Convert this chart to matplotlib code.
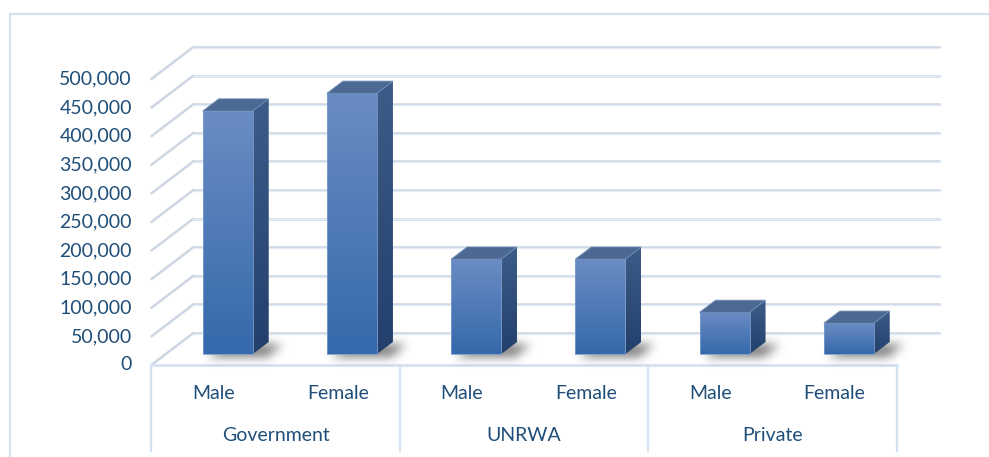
import numpy as np
import matplotlib
matplotlib.use("Agg")
import matplotlib.pyplot as plt
from matplotlib.patches import Polygon, Rectangle
from matplotlib.lines import Line2D
from matplotlib.colors import LinearSegmentedColormap
import matplotlib.transforms as mtransforms

# ---------------- data ----------------
groups = ["Government", "UNRWA", "Private"]
genders = ["Male", "Female"]
values = [425000, 456000, 166000, 166000, 73000, 54000]   # Gov M/F, UNRWA M/F, Private M/F
yticks = list(range(0, 500001, 50000))

# ---------------- layout ----------------
W, H = 989, 457
SLOT_PX = 124.2          # px per category slot
X0_PX = 213.5            # px of first slot centre on floor front
Y0_PX = 365              # px of value 0 on floor front
UNIT = 500000 / 286      # value units per px
XU = 1 / SLOT_PX         # slot units per px

DX = 42 * XU             # full depth (floor front -> back wall)
DY = 32 * UNIT
F0, F1 = 0.34, 0.72      # bar front / back depth fraction
BW = 50 * XU             # bar width

TXT = "#1F4E79"
GRID = "#cdd6e2"
EDGE = "#d5e2f1"

plt.rcParams['font.family'] = ['Lato', 'DejaVu Sans']

fig = plt.figure(figsize=(W / 100, H / 100), dpi=100)
ax = fig.add_axes([0, 0, 1, 1])
ax.set_axis_off()
xlim = (-X0_PX / SLOT_PX, (W - X0_PX) / SLOT_PX)
ylim = (-(H - Y0_PX) * UNIT, Y0_PX * UNIT)

# chart border (top + left)
fig.add_artist(Line2D([10 / W, 1], [1 - 14 / H, 1 - 14 / H], color=EDGE, lw=1.6))
fig.add_artist(Line2D([10 / W, 10 / W], [0, 1 - 14 / H], color=EDGE, lw=1.6))

n = len(values)
xl, xr = -0.5, n - 0.5

# gridlines: left wall diagonals + back wall
for v in yticks:
    ax.plot([xl, xl + DX], [v, v + DY], color=GRID, lw=1.8, solid_capstyle='round', zorder=1)
    ax.plot([xl + DX, xr + DX], [v + DY, v + DY], color=GRID, lw=1.8, zorder=1)
    ax.plot([xl + DX, xr + DX], [v + DY - 0.8 * UNIT, v + DY - 0.8 * UNIT], color="#e3ecf7", lw=1.0, zorder=1)

# floor front edge + group separators
ax.plot([xl, xr], [0, 0], color=EDGE, lw=2, zorder=2)
for g in range(len(groups) + 1):
    xs = xl + 2 * g
    ax.plot([xs, xs], [0, -150000], color=EDGE, lw=1.6, zorder=2)

# y tick labels
off = mtransforms.offset_copy(ax.transData, fig=fig, x=-14, y=0, units='points')
for v in yticks:
    ax.text(xl, v, f"{v:,}", transform=off, ha='right', va='center',
            fontsize=14, color=TXT)

# category labels
for i in range(n):
    ax.text(i, -49000, genders[i % 2], ha='center', va='center', fontsize=14, color=TXT)
for g, name in enumerate(groups):
    ax.text(2 * g + 0.5, -124000, name, ha='center', va='center', fontsize=14, color=TXT)

front_cmap = LinearSegmentedColormap.from_list("front", ["#3569ab", "#6a8cc4"])
side_cmap = LinearSegmentedColormap.from_list("side", ["#22406b", "#3e5c88"])
grad = np.linspace(0, 1, 256).reshape(-1, 1)


def gauss_blur(a, sigma):
    r = int(3 * sigma)
    k = np.exp(-0.5 * (np.arange(-r, r + 1) / sigma) ** 2)
    k /= k.sum()
    a = np.apply_along_axis(lambda m: np.convolve(m, k, mode='same'), 0, a)
    a = np.apply_along_axis(lambda m: np.convolve(m, k, mode='same'), 1, a)
    return a


bd = F1 - F0
for i, v in enumerate(values):
    x1 = i - BW / 2 + F0 * DX
    x2 = x1 + BW
    b = F0 * DY

    # soft blurred shadow on the floor, right of the bar base
    ex0, ex1 = x1 - 15 * XU, x2 + bd * DX + 45 * XU
    ey0, ey1 = b - 15 * UNIT, b + bd * DY + 12 * UNIT
    nx = int(round((ex1 - ex0) / XU))
    ny = int(round((ey1 - ey0) / UNIT))
    gx = np.linspace(ex0, ex1, nx)
    gy = np.linspace(ey0, ey1, ny)
    GX, GY = np.meshgrid(gx, gy)
    t = (GY - (b - 3 * UNIT)) / (bd * DY)
    shift = 14 * XU
    inside = (t >= 0) & (t <= 1) & (GX >= x1 + 4 * XU + t * bd * DX) & (GX <= x2 + shift + t * bd * DX)
    alpha = gauss_blur(inside.astype(float), 5) * 0.55
    rgba = np.zeros((ny, nx, 4))
    rgba[..., 3] = alpha
    ax.imshow(rgba, extent=(ex0, ex1, ey0, ey1), origin='lower', aspect='auto',
              zorder=3, interpolation='bilinear')

    # front face
    rect = Rectangle((x1, b), BW, v, facecolor='none', edgecolor='#7d9dcc', lw=0.6, zorder=6)
    ax.add_patch(rect)
    im = ax.imshow(grad, cmap=front_cmap, extent=(x1, x2, b, b + v), origin='lower',
                   aspect='auto', zorder=5, interpolation='bilinear')
    im.set_clip_path(rect)

    # side face
    side = Polygon([(x2, b), (x2 + bd * DX, b + bd * DY), (x2 + bd * DX, b + v + bd * DY), (x2, b + v)],
                   closed=True, facecolor='none', edgecolor='none', zorder=6)
    ax.add_patch(side)
    im2 = ax.imshow(grad, cmap=side_cmap, extent=(x2, x2 + bd * DX, b, b + v + bd * DY), origin='lower',
                    aspect='auto', zorder=5, interpolation='bilinear')
    im2.set_clip_path(side)

    # top face
    top = Polygon([(x1, b + v), (x2, b + v), (x2 + bd * DX, b + v + bd * DY), (x1 + bd * DX, b + v + bd * DY)],
                  closed=True, facecolor='#4b6992', edgecolor='#6f8cb8', lw=0.6, zorder=6)
    ax.add_patch(top)

ax.set_xlim(*xlim)
ax.set_ylim(*ylim)

fig.savefig("out.png", dpi=100, facecolor='white')
